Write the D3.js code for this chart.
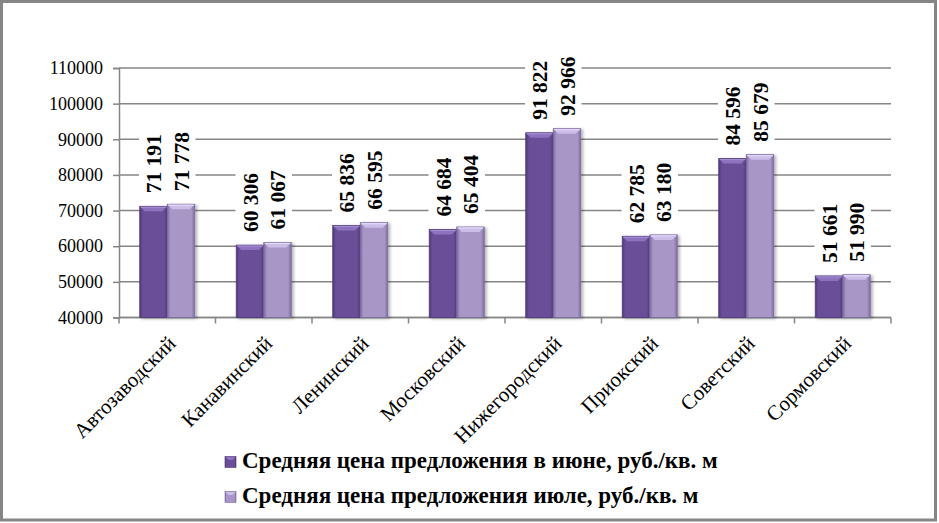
<!DOCTYPE html>
<html>
<head>
<meta charset="utf-8">
<script src="https://cdn.jsdelivr.net/npm/d3@7"></script>
<style>
  body { margin: 0; background: #fff; }
  svg { display: block; }
</style>
</head>
<body>
<script>
// Data
const districts = ["Автозаводский", "Канавинский", "Ленинский", "Московский",
  "Нижегородский", "Приокский", "Советский", "Сормовский"];
const juneValues = [71191, 60306, 65836, 64684, 91822, 62785, 84596, 51661];
const julyValues = [71778, 61067, 66595, 65404, 92966, 63180, 85679, 51990];
const seriesNames = ["Средняя цена предложения в июне, руб./кв. м",
  "Средняя цена предложения июле, руб./кв. м"];
const yTicks = [40000, 50000, 60000, 70000, 80000, 90000, 100000, 110000];

const width = 939,
  height = 523;
const margin = { top: 68, right: 48, bottom: 205.5, left: 119 };
const innerWidth = width - margin.left - margin.right;
const innerHeight = height - margin.top - margin.bottom;

const font = "Liberation Serif";
const grey = "#868686";
const colors = [
  { main: "#6a4f98", dark: "#4f3878", light: "#a48cd0", top: "#8d72bf" },
  { main: "#a796c6", dark: "#7d6ca0", light: "#e4dafa", top: "#cbbde8" }
];

const series = [juneValues, julyValues];
const rows = districts.map((d, i) => ({
  name: d,
  values: series.map((s, k) => ({ k: k, v: s[i] }))
}));

const fmt = v => d3.format(",")(v).replace(/,/g, " ");

const svg = d3.select("body").append("svg")
  .attr("width", width)
  .attr("height", height)
  .attr("font-family", font);

const defs = svg.append("defs");
colors.forEach((c, k) => {
  const g = defs.append("linearGradient").attr("id", "bar" + k)
    .attr("x1", 0).attr("x2", 1).attr("y1", 0).attr("y2", 0);
  g.append("stop").attr("offset", "0").attr("stop-color", c.dark);
  g.append("stop").attr("offset", "0.12").attr("stop-color", c.main);
  g.append("stop").attr("offset", "0.88").attr("stop-color", c.main);
  g.append("stop").attr("offset", "1").attr("stop-color", c.dark);
});
const sh = defs.append("filter").attr("id", "shadow")
  .attr("x", "-20%").attr("y", "-5%").attr("width", "150%").attr("height", "115%");
sh.append("feDropShadow").attr("dx", 2).attr("dy", 1)
  .attr("stdDeviation", 1.5).attr("flood-color", "#000").attr("flood-opacity", 0.3);

// frame
svg.append("rect")
  .attr("x", 1.5).attr("y", 1.5)
  .attr("width", width - 5).attr("height", height - 4.5)
  .attr("fill", "#fff").attr("stroke", grey).attr("stroke-width", 3);

const mainG = svg.append("g")
  .attr("transform", `translate(${margin.left},${margin.top})`);

const x0 = d3.scaleBand()
  .domain(districts)
  .range([0, innerWidth])
  .paddingInner(0.43)
  .paddingOuter(0.215);
const x1 = d3.scaleBand().domain([0, 1]).range([0, x0.bandwidth()]);
const y = d3.scaleLinear().domain([40000, 110000]).range([innerHeight, 0]);

// gridlines
mainG.append("g")
  .selectAll("line")
  .data(yTicks)
  .join("line")
  .attr("x1", 0).attr("x2", innerWidth)
  .attr("y1", d => y(d)).attr("y2", d => y(d))
  .attr("stroke", grey).attr("stroke-width", 1.5);

// y axis
const yAxis = d3.axisLeft(y).tickValues(yTicks).tickSize(6).tickPadding(10)
  .tickFormat(d3.format("d"));
const yG = mainG.append("g").call(yAxis).attr("font-family", font);
yG.select(".domain").attr("stroke", grey).attr("stroke-width", 1.5);
yG.selectAll(".tick line").attr("stroke", grey).attr("stroke-width", 1.5);
yG.selectAll("text")
  .attr("font-family", font)
  .attr("font-size", 18).attr("fill", "#000");

// x axis line with ticks at band boundaries
const step = x0.step();
const xG = mainG.append("g").attr("transform", `translate(0,${innerHeight})`);
xG.append("line").attr("x1", 0).attr("x2", innerWidth)
  .attr("stroke", grey).attr("stroke-width", 1.5);
xG.selectAll(".xt")
  .data(d3.range(districts.length + 1))
  .join("line")
  .attr("class", "xt")
  .attr("x1", i => i * step).attr("x2", i => i * step)
  .attr("y1", 0).attr("y2", 6)
  .attr("stroke", grey).attr("stroke-width", 1.5);

xG.selectAll(".xl")
  .data(districts)
  .join("text")
  .attr("class", "xl")
  .attr("transform", d => `translate(${x0(d) + x0.bandwidth() / 2 + 4.5},22) rotate(-45)`)
  .attr("text-anchor", "end")
  .attr("dy", "0.35em")
  .attr("font-family", font)
  .attr("font-size", 21)
  .attr("fill", "#000")
  .text(d => d);

// bars
const groups = mainG.selectAll(".grp")
  .data(rows)
  .join("g")
  .attr("class", "grp")
  .attr("transform", d => `translate(${x0(d.name)},0)`);

const bars = groups.selectAll(".bar")
  .data(d => d.values)
  .join("g")
  .attr("class", "bar");

bars.append("rect")
  .attr("x", d => x1(d.k))
  .attr("y", d => y(d.v))
  .attr("width", x1.bandwidth())
  .attr("height", d => innerHeight - y(d.v))
  .attr("fill", d => `url(#bar${d.k})`)
  .attr("stroke", d => colors[d.k].dark)
  .attr("stroke-width", 0.8)
  .attr("filter", "url(#shadow)");

// top bevel
const bev = 5;
bars.append("path")
  .attr("d", d => {
    const bx = x1(d.k), by = y(d.v), w = x1.bandwidth();
    return `M${bx + 0.5},${by + 0.5}L${bx + w - 0.5},${by + 0.5}L${bx + w - bev},${by + bev}L${bx + bev},${by + bev}Z`;
  })
  .attr("fill", d => colors[d.k].top);
bars.append("line")
  .attr("x1", d => x1(d.k) + 1).attr("x2", d => x1(d.k) + x1.bandwidth() - 1)
  .attr("y1", d => y(d.v) + 1).attr("y2", d => y(d.v) + 1)
  .attr("stroke", d => colors[d.k].light).attr("stroke-width", 1.2);

// value labels: white boxes in one layer, texts on top
const labelData = rows.flatMap(r => r.values.map(v => ({ name: r.name, k: v.k, v: v.v })));
const labelPos = d =>
  `translate(${x0(d.name) + x1(d.k) + x1.bandwidth() / 2},${y(d.v) - 13}) rotate(-90)`;
const boxLayer = mainG.append("g");
const textLayer = mainG.append("g");
textLayer.selectAll("text")
  .data(labelData)
  .join("text")
  .attr("transform", labelPos)
  .attr("text-anchor", "start")
  .attr("dy", "0.35em")
  .attr("font-family", font)
  .attr("font-size", 21.5)
  .attr("font-weight", "bold")
  .attr("fill", "#000")
  .text(d => fmt(d.v))
  .each(function (d) {
    const len = this.getComputedTextLength();
    boxLayer.append("rect")
      .attr("transform", labelPos(d))
      .attr("x", -5).attr("y", -14.5)
      .attr("width", len + 10).attr("height", 29)
      .attr("fill", "#fff");
  });

// legend
const legend = svg.append("g").attr("transform", "translate(225,0)");
const legendRows = [460, 495];
seriesNames.forEach((name, k) => {
  const lg = legend.append("g").attr("transform", `translate(0,${legendRows[k]})`);
  lg.append("rect")
    .attr("x", 0).attr("y", -3.5)
    .attr("width", 11).attr("height", 11)
    .attr("fill", `url(#bar${k})`)
    .attr("stroke", colors[k].dark).attr("stroke-width", 0.6);
  lg.append("path")
    .attr("d", "M0.5,-3L10.5,-3L7.5,0L3.5,0Z")
    .attr("fill", colors[k].top);
  lg.append("text")
    .attr("x", 17)
    .attr("dy", "0.35em")
    .attr("font-family", font)
    .attr("font-size", 23)
    .attr("font-weight", "bold")
    .attr("fill", "#000")
    .text(name);
});
</script>
</body>
</html>
